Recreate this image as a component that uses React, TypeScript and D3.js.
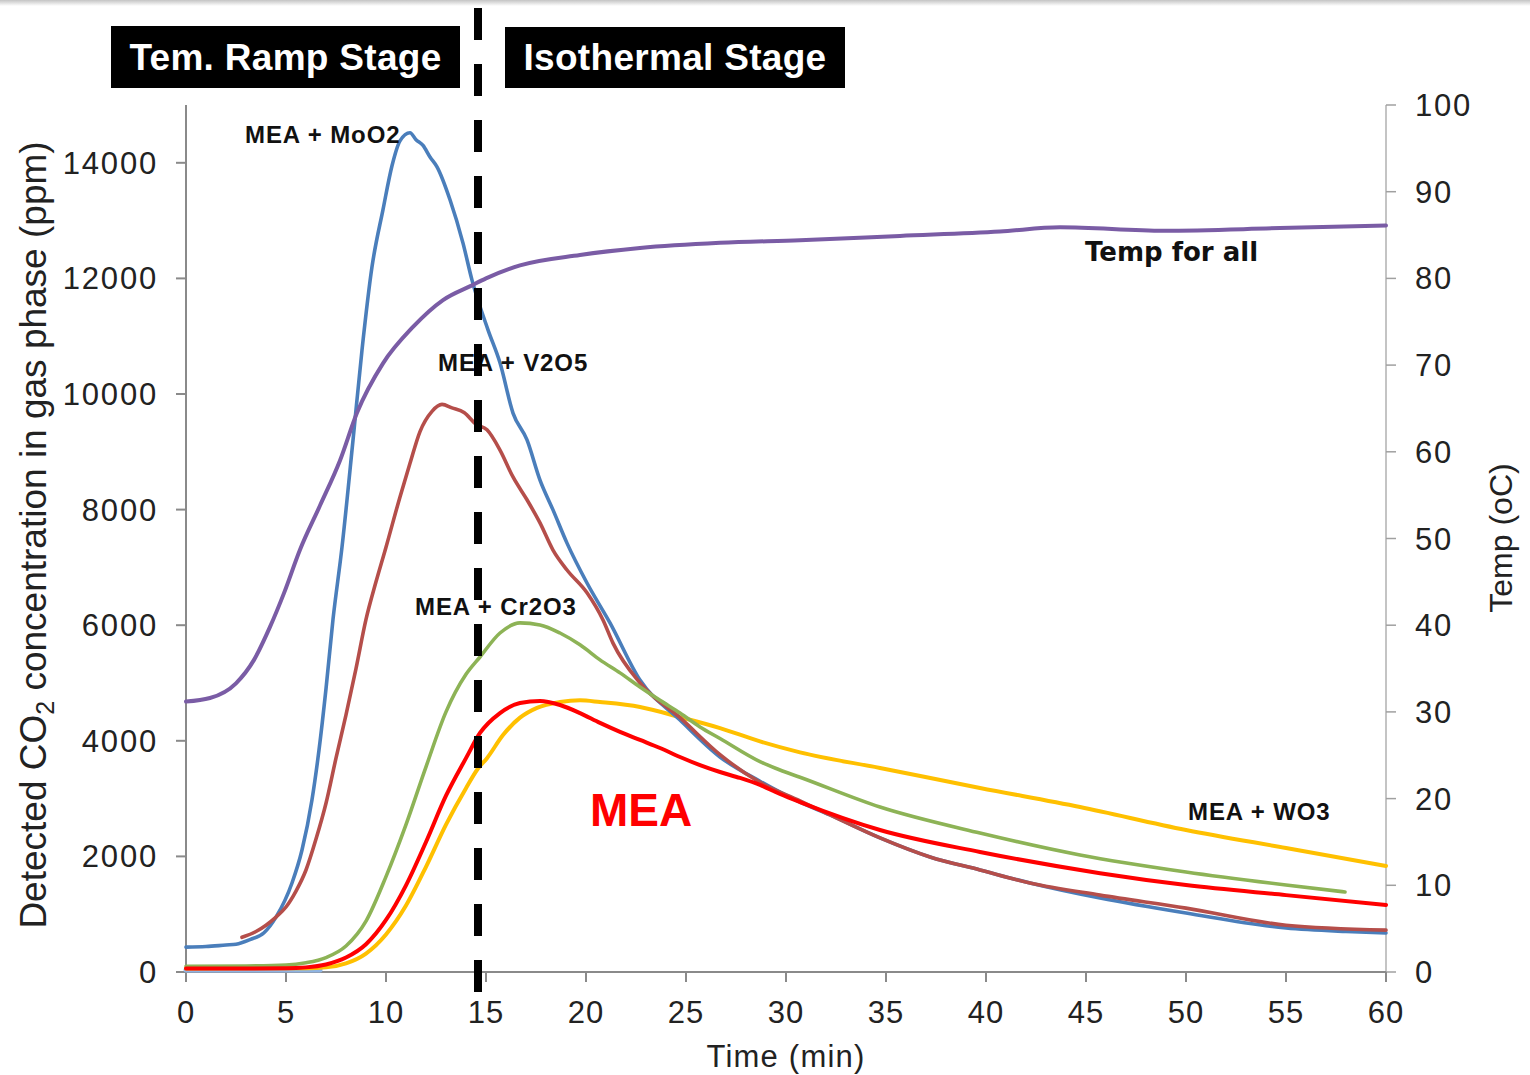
import React from "react";
import * as d3 from "d3";

type Pt = [number, number];

// ---- axis ticks ----
const timeTicks = [0, 5, 10, 15, 20, 25, 30, 35, 40, 45, 50, 55, 60];
const ppmTicks = [0, 2000, 4000, 6000, 8000, 10000, 12000, 14000];
const tempTicks = [0, 10, 20, 30, 40, 50, 60, 70, 80, 90, 100];

const stageBoundaryMin = 14.6;

// ---- series (time in min, CO2 in ppm) ----
const moO2: Pt[] = [
  [0, 430], [1, 440], [2, 467], [2.5, 480], [3.2, 560], [3.9, 680], [4.5, 950], [5.3, 1540],
  [5.8, 2110], [6.3, 2980], [6.65, 3840], [7.0, 4900], [7.35, 6100], [7.8, 7350], [8.35, 9200],
  [8.8, 10760], [9.3, 12200], [9.85, 13190], [10.3, 13950], [10.7, 14380],
  [11.2, 14520], [11.5, 14400], [11.85, 14300], [12.2, 14100], [12.55, 13930], [13.2, 13360],
  [13.85, 12610], [14.3, 11970], [15.1, 11110], [15.7, 10540], [16.35, 9670], [17.05, 9205],
  [17.7, 8510], [18.35, 7995], [19.05, 7420], [20.05, 6730], [21.2, 6040], [22.7, 5050],
  [24.7, 4360], [26.7, 3720], [28.7, 3300], [30.7, 2940], [32.2, 2717], [34.7, 2320],
  [37.2, 1990], [39.7, 1765], [42.2, 1540], [45.7, 1280], [50, 1020],
  [55, 760], [58, 700], [60, 675],
];

const v2o5: Pt[] = [
  [2.8, 600], [3.5, 700], [4, 810], [4.5, 950], [5, 1125], [5.5, 1400], [6, 1765], [6.5, 2300],
  [7, 2920], [7.5, 3700], [8, 4450], [8.5, 5250], [9, 6100], [9.5, 6750], [10, 7350],
  [10.7, 8220], [11.2, 8800], [11.7, 9350], [12.3, 9700], [12.8, 9820], [13.3, 9760],
  [13.9, 9680], [14.5, 9480], [15.05, 9380], [15.7, 9030], [16.35, 8565], [17.05, 8170],
  [17.7, 7770], [18.35, 7300], [19.05, 6955], [20.05, 6560], [20.85, 6090], [21.35, 5690],
  [22.7, 5000], [24.7, 4400], [26.7, 3760], [28.7, 3280], [30.7, 2960], [32.2, 2717],
  [34.7, 2320], [37.2, 1990], [39.7, 1765], [42.2, 1540], [45.7, 1330],
  [50, 1105], [55, 810], [60, 725],
];

const cr2o3: Pt[] = [
  [0, 100], [3, 105], [5, 120], [6, 160], [7, 250], [8, 450], [9, 880], [10, 1650],
  [11, 2550], [12, 3550], [13, 4500], [14, 5150], [14.7, 5450], [15.7, 5865], [16.7, 6040],
  [17.7, 6005], [18.7, 5865], [19.7, 5660], [20.7, 5400], [21.7, 5175], [22.7, 4930],
  [23.7, 4700], [24.7, 4480], [25.7, 4240], [26.7, 4040], [28.7, 3640], [29.7, 3495],
  [30.7, 3370], [34.7, 2855], [39.7, 2405], [44.7, 2025], [50, 1730],
  [55, 1505], [57.95, 1385],
];

const mea: Pt[] = [
  [0, 60], [5, 65], [6, 80], [7, 130], [8, 250], [9, 480], [10, 900], [11, 1500],
  [12, 2250], [13, 3050], [14, 3700], [14.7, 4135], [15.7, 4480], [16.7, 4655], [17.7, 4690],
  [18.7, 4620], [19.7, 4480], [20.7, 4310], [21.7, 4155], [22.7, 4015], [23.7, 3875],
  [24.7, 3720], [25.7, 3580], [26.7, 3460], [27.7, 3357], [28.7, 3236], [29.7, 3080],
  [30.7, 2940], [34.7, 2457], [39.7, 2077], [45.7, 1710], [50, 1505],
  [55, 1330], [60, 1160],
];

const wo3: Pt[] = [
  [0, 60], [6, 65], [7, 80], [8, 150], [9, 320], [10, 650], [11, 1150], [12, 1820],
  [13, 2550], [14, 3180], [14.6, 3520], [15.05, 3700], [15.85, 4100], [16.7, 4400],
  [17.55, 4570], [18.7, 4670], [19.7, 4700], [20.7, 4670], [22.7, 4585], [24.7, 4410],
  [26.7, 4220], [28.7, 3990], [30.7, 3800], [34.7, 3530], [39.7, 3184],
  [44.7, 2855], [50, 2457], [55, 2145], [60, 1835],
];

const baselineTrace: Pt[] = [[0, 35], [6.7, 35]];

// ---- temperature (time in min, °C) ----
const temp: Pt[] = [
  [0, 31.2], [1.2, 31.6], [2.5, 33.3], [3.4, 36], [4.2, 39.8], [4.9, 43.7], [5.7, 48.7],
  [6.7, 53.8], [7.7, 59], [8.55, 64.5], [9.85, 70.2], [11.35, 74.4], [12.85, 77.5],
  [14.3, 79.2], [15, 80], [16.7, 81.5], [19.7, 82.7], [22.7, 83.5], [26.7, 84.1],
  [30.7, 84.4], [35.7, 84.9], [40.7, 85.4], [43.7, 85.9], [48.9, 85.5],
  [54.7, 85.8], [60, 86.1],
];

const FONT = "'Liberation Sans', Arial, Helvetica, sans-serif";

export default function App() {
  const W = 1530, H = 1075;
  const x = d3.scaleLinear().domain([0, 60]).range([186, 1386]);
  const yL = d3.scaleLinear().domain([0, 15000]).range([972, 105]);
  const yR = d3.scaleLinear().domain([0, 100]).range([972, 105]);

  const lineL = d3.line<Pt>().x(d => x(d[0])).y(d => yL(d[1])).curve(d3.curveMonotoneX);
  const lineR = d3.line<Pt>().x(d => x(d[0])).y(d => yR(d[1])).curve(d3.curveMonotoneX);

  const series = [
    { data: baselineTrace, color: "#8FB4E3", w: 5 },
    { data: wo3, color: "#FFC000", w: 4 },
    { data: moO2, color: "#4A7EBB", w: 3.6 },
    { data: v2o5, color: "#B54E4A", w: 3.6 },
    { data: cr2o3, color: "#8DB356", w: 3.6 },
    { data: mea, color: "#FF0000", w: 4 },
  ];

  const axisColor = "#8a8a8a";
  const xb = x(stageBoundaryMin);
  const labelProps = { fontFamily: FONT, fontWeight: "bold", fontSize: 24, letterSpacing: 0.9, fill: "#111" } as const;

  return (
    <svg width={W} height={H} style={{ position: "absolute", left: 0, top: 0, display: "block", background: "#fff" }}>
      <defs>
        <linearGradient id="topband" x1="0" y1="0" x2="0" y2="1">
          <stop offset="0" stopColor="#c4c4c4" />
          <stop offset="1" stopColor="#ffffff" />
        </linearGradient>
      </defs>
      <rect x={0} y={0} width={W} height={H} fill="#fff" />
      <rect x={0} y={0} width={W} height={6} fill="url(#topband)" />

      {/* left axis */}
      <line x1={186} x2={186} y1={yL(15000)} y2={972} stroke={axisColor} strokeWidth={2} />
      {ppmTicks.map(t => (
        <g key={"l" + t}>
          <line x1={176} x2={186} y1={yL(t)} y2={yL(t)} stroke={axisColor} strokeWidth={2} />
          <text x={158} y={yL(t) + 11} textAnchor="end" fontFamily={FONT} fontSize={31} letterSpacing={1.8} fill="#222">{t}</text>
        </g>
      ))}

      {/* right axis */}
      <line x1={1386} x2={1386} y1={yR(100)} y2={972} stroke="#b0b0b0" strokeWidth={1.5} />
      {tempTicks.map(t => (
        <g key={"r" + t}>
          <line x1={1386} x2={1396} y1={yR(t)} y2={yR(t)} stroke="#a0a0a0" strokeWidth={1.5} />
          <text x={1415} y={yR(t) + 11} textAnchor="start" fontFamily={FONT} fontSize={31} letterSpacing={1.8} fill="#222">{t}</text>
        </g>
      ))}

      {/* bottom axis */}
      <line x1={176} x2={1386} y1={972} y2={972} stroke={axisColor} strokeWidth={2} />
      {timeTicks.map(t => (
        <g key={"b" + t}>
          <line x1={x(t)} x2={x(t)} y1={972} y2={982} stroke={axisColor} strokeWidth={2} />
          <text x={x(t)} y={1023} textAnchor="middle" fontFamily={FONT} fontSize={31} letterSpacing={1} fill="#222">{t}</text>
        </g>
      ))}

      {/* axis titles */}
      <text x={786} y={1067} textAnchor="middle" fontFamily={FONT} fontSize={31} letterSpacing={1.2} fill="#222">Time (min)</text>
      <text transform="translate(46,535) rotate(-90)" textAnchor="middle" fontFamily={FONT} fontSize={37} fill="#222">
        Detected CO<tspan fontSize={25} dy={8}>2</tspan><tspan dy={-8}> concentration in gas phase (ppm)</tspan>
      </text>
      <text transform="translate(1512,538) rotate(-90)" textAnchor="middle" fontFamily={FONT} fontSize={32} fill="#222">Temp (oC)</text>

      {/* CO2 series */}
      {series.map((s, i) => (
        <path key={i} d={lineL(s.data) || ""} fill="none" stroke={s.color} strokeWidth={s.w} strokeLinejoin="round" strokeLinecap="round" />
      ))}
      {/* temperature */}
      <path d={lineR(temp) || ""} fill="none" stroke="#7A5CA5" strokeWidth={4} strokeLinejoin="round" strokeLinecap="round" />

      {/* series labels */}
      <text x={x(2.95)} y={yL(14340)} {...labelProps}>MEA + MoO2</text>
      <text x={x(12.6)} y={yL(10400)} {...labelProps}>MEA + V2O5</text>
      <text x={x(11.45)} y={yL(6177)} {...labelProps}>MEA + Cr2O3</text>
      <text x={x(50.1)} y={yL(2630)} {...labelProps}>MEA + WO3</text>
      <text x={x(44.95)} y={yR(82.0)} fontFamily="'DejaVu Sans', Verdana, sans-serif" fontWeight="bold" fontSize={26} fill="#111">Temp for all</text>
      <text x={x(20.2)} y={yL(2526)} fontFamily={FONT} fontWeight="bold" fontSize={46} fill="#FF0000">MEA</text>

      {/* stage boundary */}
      <line x1={xb} x2={xb} y1={8} y2={993} stroke="#000" strokeWidth={8} strokeDasharray="32 24" />

      {/* stage boxes */}
      <rect x={111} y={26} width={349} height={62} fill="#000" />
      <text x={285.5} y={70} textAnchor="middle" fontFamily={FONT} fontWeight="bold" fontSize={37} letterSpacing={0.3} fill="#fff">Tem. Ramp Stage</text>
      <rect x={505} y={27} width={340} height={61} fill="#000" />
      <text x={675} y={70} textAnchor="middle" fontFamily={FONT} fontWeight="bold" fontSize={37} letterSpacing={0.3} fill="#fff">Isothermal Stage</text>
    </svg>
  );
}
